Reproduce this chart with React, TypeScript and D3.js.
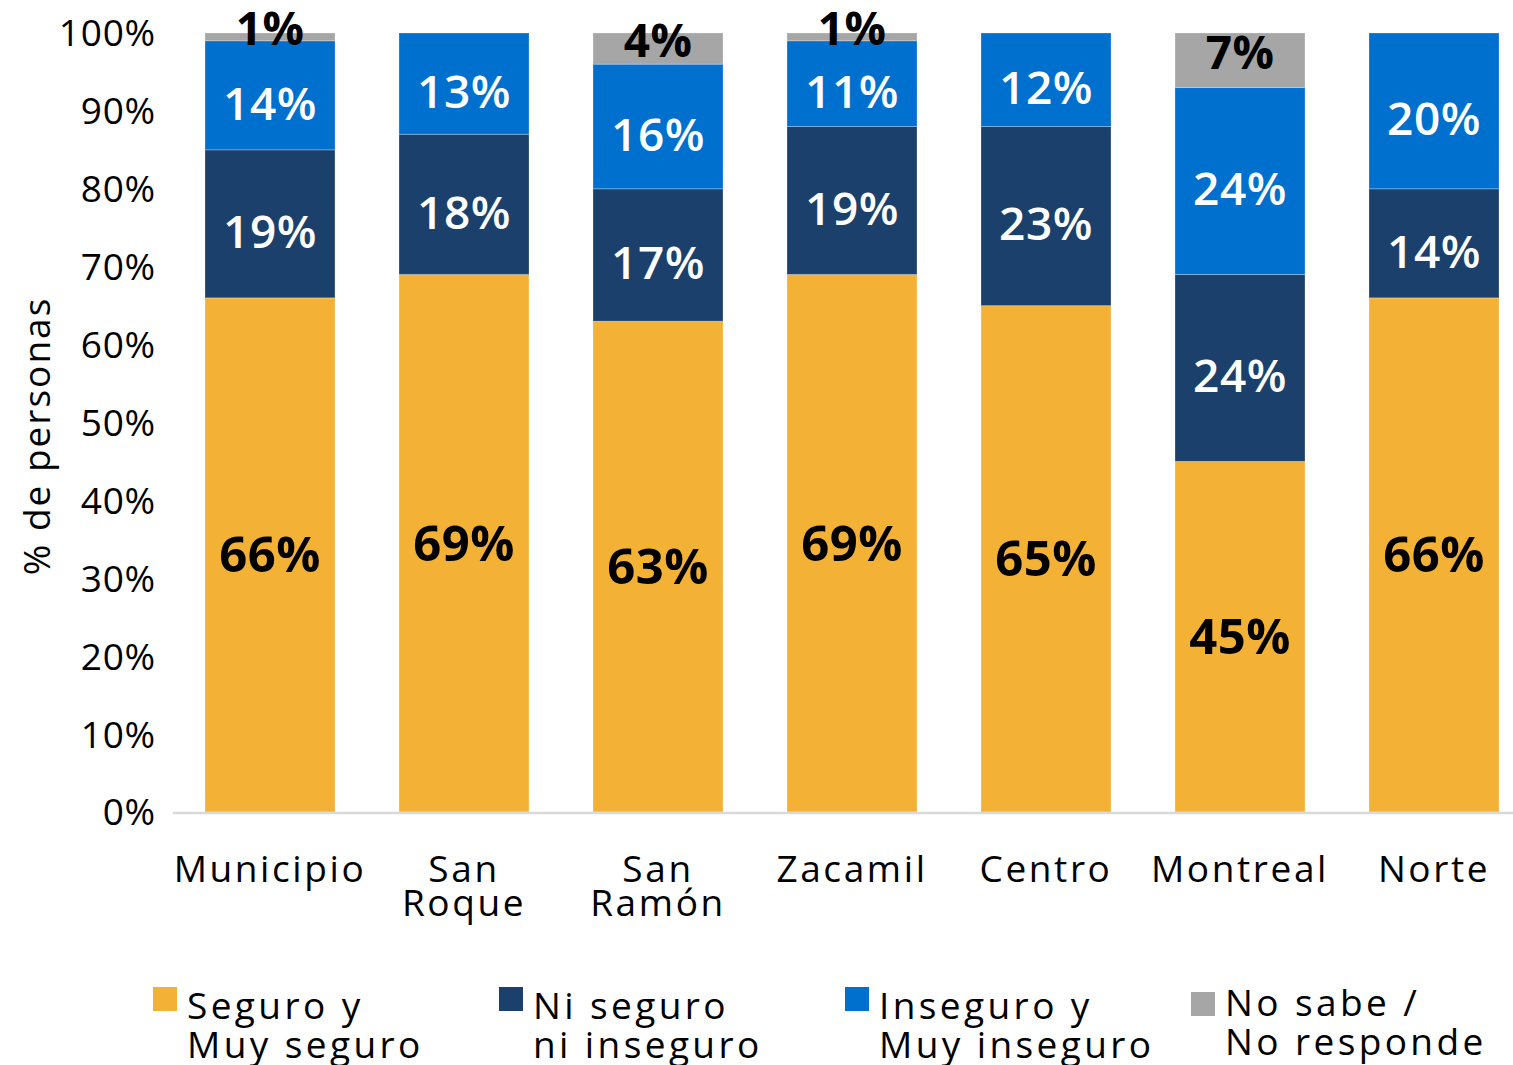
import { useEffect, useRef } from 'react';
import * as d3 from 'd3';

const width = 1513;
const height = 1065;
const margin = { top: 33, bottom: 253, left: 173 };
const font = "'Open Sans', 'Noto Sans', sans-serif";

const categories = ['Municipio', 'San Roque', 'San Ramón', 'Zacamil', 'Centro', 'Montreal', 'Norte'];
const seguro = [66, 69, 63, 69, 65, 45, 66];
const niSeguro = [19, 18, 17, 19, 23, 24, 14];
const inseguro = [14, 13, 16, 11, 12, 24, 20];
const noSabe = [1, 0, 4, 1, 0, 7, 0];
const yTicks = [0, 10, 20, 30, 40, 50, 60, 70, 80, 90, 100];

const keys = ['seguro', 'niSeguro', 'inseguro', 'noSabe'];
const legendLabels = [
    ['Seguro y', 'Muy seguro'],
    ['Ni seguro', 'ni inseguro'],
    ['Inseguro y', 'Muy inseguro'],
    ['No sabe /', 'No responde'],
];
const colors = ['#F3B236', '#1B406C', '#0070CE', '#A6A6A6'];
// label look per series: text colour, weight, vertical shift from segment centre
const labelStyle = [
    { fill: '#000', weight: 700, size: 49, shift: 0 },
    { fill: '#fff', weight: 600, size: 46, shift: 8 },
    { fill: '#fff', weight: 600, size: 46, shift: 8 },
    { fill: '#000', weight: 700, size: 46, shift: -8 },
];

const rows = categories.map((c, i) => ({
    category: c,
    seguro: seguro[i],
    niSeguro: niSeguro[i],
    inseguro: inseguro[i],
    noSabe: noSabe[i],
}));

export default function App() {
    const axisRef = useRef<SVGGElement>(null);

    const xScale = d3.scaleBand()
        .domain(categories)
        .range([margin.left, margin.left + 7 * 194])
        .paddingInner(0.33)
        .paddingOuter(0.165);
    const yScale = d3.scaleLinear().domain([0, 100]).range([height - margin.bottom, margin.top]);

    const stacked = d3.stack<any>().keys(keys)(rows);

    useEffect(() => {
        const yAxis = d3.axisLeft(yScale)
            .tickValues(yTicks)
            .tickSize(0)
            .tickPadding(17)
            .tickFormat(d => `${d}%`);
        const g = d3.select(axisRef.current);
        g.selectAll('*').remove();
        g.call(yAxis as any);
        g.select('.domain').remove();
        g.selectAll('text')
            .attr('font-family', font)
            .attr('font-size', 37)
            .attr('letter-spacing', 0.8)
            .attr('fill', '#000')
            .attr('dy', '0.35em');
    }, []);

    const base = yScale(0);
    const cx = (c: string) => (xScale(c) as number) + xScale.bandwidth() / 2;

    return (
        <div style={{ position: 'absolute', left: 0, top: 0 }}>
            <svg width={width} height={height} style={{ display: 'block', background: '#fff' }}>
                <g ref={axisRef} transform={`translate(${margin.left}, 0)`} />

                <text
                    transform={`translate(50, 436) rotate(-90)`}
                    textAnchor="middle"
                    fontFamily={font}
                    fontSize={37}
                    letterSpacing={2}
                >% de personas</text>

                {stacked.map((s, si) => (
                    <g key={s.key} fill={colors[si]}>
                        {s.map((d, i) => (
                            d[1] - d[0] > 0 ? (
                                <rect
                                    key={i}
                                    x={xScale(categories[i])}
                                    y={yScale(d[1])}
                                    width={xScale.bandwidth()}
                                    height={yScale(d[0]) - yScale(d[1])}
                                    stroke="#fff"
                                    strokeOpacity={0.25}
                                    strokeWidth={1}
                                />
                            ) : null
                        ))}
                    </g>
                ))}

                <line x1={margin.left} x2={width} y1={base + 1} y2={base + 1} stroke="#D9D9D9" strokeWidth={2.5} />

                {stacked.map((s, si) => (
                    <g key={s.key + '-lab'} textAnchor="middle" fontFamily={font}>
                        {s.map((d, i) => {
                            const v = d[1] - d[0];
                            if (v <= 0) return null;
                            const st = labelStyle[si];
                            const y = (yScale(d[0]) + yScale(d[1])) / 2 + st.shift + st.size * 0.357;
                            return (
                                <text
                                    key={i}
                                    x={cx(categories[i])}
                                    y={y}
                                    fill={st.fill}
                                    fontWeight={st.weight}
                                    fontSize={st.size}
                                    letterSpacing={0.5}
                                >{`${Math.round(v)}%`}</text>
                            );
                        })}
                    </g>
                ))}

                <g textAnchor="middle" fontFamily={font} fontSize={37} letterSpacing={2.6}>
                    {categories.map(c => (
                        <text key={c} x={cx(c)} y={882}>
                            {c.split(' ').map((w, wi) => (
                                <tspan key={wi} x={cx(c)} dy={wi === 0 ? 0 : 34}>{w}</tspan>
                            ))}
                        </text>
                    ))}
                </g>

                <g fontFamily={font} fontSize={37} letterSpacing={3.4}>
                    {legendLabels.map((lines, i) => {
                        const lx = 153 + i * 346;
                        const ly = i === 3 ? 992 : 987;
                        const ty = i === 3 ? 1016 : 1019;
                        return (
                            <g key={i}>
                                <rect x={lx} y={ly} width={24} height={24} fill={colors[i]} />
                                <text x={lx + 34} y={ty}>
                                    {lines.map((l, li) => (
                                        <tspan key={li} x={lx + 34} dy={li === 0 ? 0 : 39}>{l}</tspan>
                                    ))}
                                </text>
                            </g>
                        );
                    })}
                </g>
            </svg>
        </div>
    );
}
